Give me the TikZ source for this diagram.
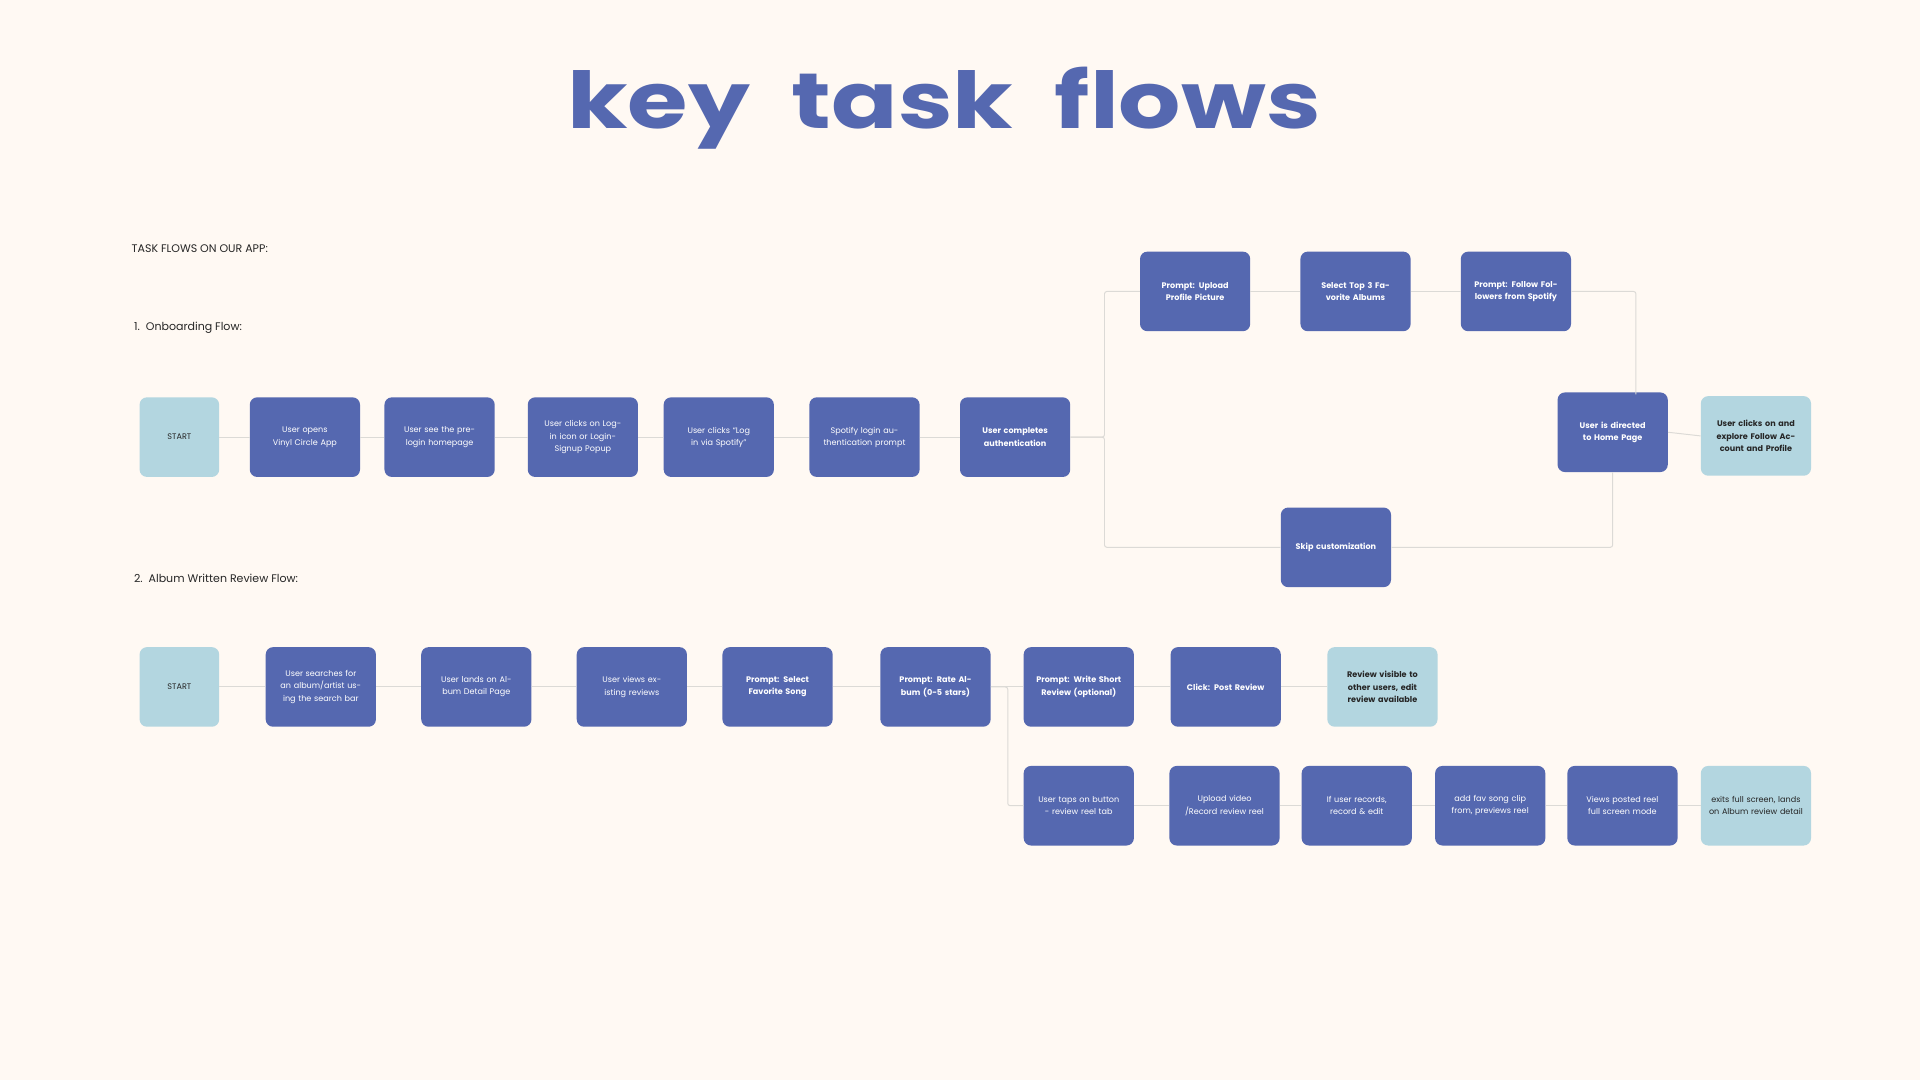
\documentclass[tikz,border=0pt]{standalone}
\usepackage{fontspec}
\setmainfont{Poppins}
\newfontfamily\ttl{Poppins}[FakeStretch=1.25]
\definecolor{bg}{HTML}{FFF9F3}
\definecolor{dk}{HTML}{5568B0}
\definecolor{lt}{HTML}{B3D6E0}
\definecolor{ln}{HTML}{DCDAD6}
\begin{document}
\begin{tikzpicture}[x=1pt,y=-1pt,
 box/.style={rounded corners=6pt,minimum width=90pt,minimum height=65pt,text width=80pt,align=center,font=\fontsize{6.6}{10}\selectfont,inner sep=2pt},
 d/.style={box,fill=dk,text=white},
 db/.style={d,font=\fontsize{6.6}{10}\selectfont\bfseries},
 l/.style={box,fill=lt,text=black!85,font=\fontsize{6.6}{10}\selectfont\bfseries},
 c/.style={draw=ln,line width=0.8pt,rounded corners=2pt},
 lab/.style={anchor=west,font=\fontsize{9}{11}\selectfont,text=black!85}]
\fill[bg] (0,0) rectangle (1568,882);
\useasboundingbox (0,0) rectangle (1568,882);
\node[font=\ttl\fontsize{64}{70}\selectfont\bfseries,text=dk] (title) at (771,88) {key\ \ task\ \ flows};
\node[lab] (t0) at (104,203) {TASK FLOWS ON OUR APP:};
\node[lab] (t1) at (106,268) {1.\ \ Onboarding Flow:};
\node[lab] (t2) at (106,472) {2.\ \ Album Written Review Flow:};
% row 1
\node[l,minimum width=65pt,text width=60pt,font=\fontsize{6.6}{10}\selectfont] (s1) at (146.5,357) {START};
\node[d] (a1) at (249,357) {User opens Vinyl Circle App};
\node[d] (a2) at (359,357) {User see the pre-login homepage};
\node[d] (a3) at (476,357) {User clicks on Log-in icon or Login-Signup Popup};
\node[d] (a4) at (587,357) {User clicks ``Log in via Spotify''};
\node[d] (a5) at (706,357) {Spotify login authentication prompt};
\node[db] (a6) at (829,357) {User completes authentication};
\node[db] (b1) at (976,238) {Prompt: Upload Profile Picture};
\node[db] (b2) at (1107,238) {Select Top 3 Favorite Albums};
\node[db] (b3) at (1238,238) {Prompt: Follow Followers from Spotify};
\node[db] (hm) at (1317,353) {User is directed to Home Page};
\node[l] (fx) at (1434,356) {User clicks on and explore Follow Account and Profile};
\node[db] (sk) at (1091,447) {Skip customization};
\draw[c] (s1)--(a1); \draw[c] (a1)--(a2); \draw[c] (a2)--(a3); \draw[c] (a3)--(a4); \draw[c] (a4)--(a5); \draw[c] (a5)--(a6);
\draw[c] (a6.east)--(902,357)--(902,238)--(b1.west);
\draw[c] (a6.east)--(902,357)--(902,447)--(sk.west);
\draw[c] (b1)--(b2); \draw[c] (b2)--(b3);
\draw[c] (b3.east)--(1336,238)--(1336,322);
\draw[c] (sk.east)--(1317,447)--(hm.south);
\draw[c] (hm.east)--(fx.west);
% row 2
\node[l,minimum width=65pt,text width=60pt,font=\fontsize{6.6}{10}\selectfont] (s2) at (146.5,561) {START};
\node[d] (r1) at (262,561) {User searches for an album/artist using the search bar};
\node[d] (r2) at (389,561) {User lands on Album Detail Page};
\node[d] (r3) at (516,561) {User views existing reviews};
\node[db] (r4) at (635,561) {Prompt: Select Favorite Song};
\node[db] (r5) at (764,561) {Prompt: Rate Album (0-5 stars)};
\node[db] (r6) at (881,561) {Prompt: Write Short Review (optional)};
\node[db] (r7) at (1001,561) {Click: Post Review};
\node[l] (r8) at (1129,561) {Review visible to other users, edit review available};
\draw[c] (s2)--(r1); \draw[c] (r1)--(r2); \draw[c] (r2)--(r3); \draw[c] (r3)--(r4); \draw[c] (r4)--(r5); \draw[c] (r5)--(r6); \draw[c] (r6)--(r7); \draw[c] (r7)--(r8);
\node[d] (q1) at (881,658) {User taps on button - review reel tab};
\node[d] (q2) at (1000,658) {Upload video /Record review reel};
\node[d] (q3) at (1108,658) {If user records, record \& edit};
\node[d] (q4) at (1217,658) {add fav song clip from, previews reel};
\node[d] (q5) at (1325,658) {Views posted reel full screen mode};
\node[l,font=\fontsize{6.6}{10}\selectfont] (q6) at (1434,658) {exits full screen, lands on Album review detail};
\draw[c] (r5.east)--(823,561)--(823,658)--(q1.west);
\draw[c] (q1)--(q2); \draw[c] (q2)--(q3); \draw[c] (q3)--(q4); \draw[c] (q4)--(q5); \draw[c] (q5)--(q6);
\end{tikzpicture}
\end{document}
